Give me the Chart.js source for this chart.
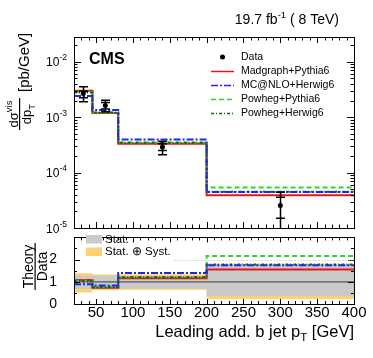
<!DOCTYPE html>
<html lang="en">
<head>
<meta charset="UTF-8">
<title>Leading add. b jet pT</title>
<script src="https://cdn.jsdelivr.net/npm/chart.js@4"></script>
<style>
  body { margin: 0; background: #fff; }
  #wrap { position: relative; width: 373px; height: 358px; }
  canvas { position: absolute; left: 0; }
  #top { top: 0; }
  #ratio { top: 220px; }
</style>
</head>
<body>
<div id="wrap">
  <canvas id="top" width="373" height="240"></canvas>
  <canvas id="ratio" width="373" height="138"></canvas>
</div>
<script>
const binEdges = [20, 45, 80, 200, 400];
const binCenters = [32.5, 62.5, 140, 300];

// measured cross section, pb/GeV
const dataXsec   = [2.67e-3, 1.62e-3, 2.9e-4, 2.56e-5];
const dataTotUp  = [3.53e-3, 2.02e-3, 3.67e-4, 4.4e-5];
const dataTotDn  = [1.89e-3, 1.25e-3, 2.1e-4, 5e-6];
const dataStatUp = [2.95e-3, 1.85e-3, 3.3e-4, 3.6e-5];
const dataStatDn = [2.25e-3, 1.4e-3, 2.5e-4, 1.5e-5];

// predictions
const madgraphPythia = [3.0e-3, 1.19e-3, 3.3e-4, 3.9e-5];
const mcatnloHerwig  = [2.4e-3, 1.35e-3, 3.95e-4, 4.45e-5];
const powhegPythia   = [2.85e-3, 1.2e-3, 3.5e-4, 5.4e-5];
const powhegHerwig   = [2.8e-3, 1.22e-3, 3.45e-4, 4.5e-5];

// theory / data
const ratioMadgraph = [1.08, 0.73, 1.16, 1.55];
const ratioMcatnlo  = [0.89, 0.83, 1.40, 1.75];
const ratioPowhegPy = [1.05, 0.75, 1.22, 2.16];
const ratioPowhegHw = [1.03, 0.76, 1.20, 1.78];

// uncertainty bands around 1
const statLo = [0.68, 0.70, 0.70, 0.36];
const statHi = [1.27, 1.28, 1.24, 1.72];
const totLo  = [0.52, 0.62, 0.64, 0.23];
const totHi  = [1.38, 1.33, 1.34, 1.78];

const xTicks = [50, 100, 150, 200, 250, 300, 350, 400];
const logTicks = [1e-5, 1e-4, 1e-3, 1e-2];
const logTickExp = ['-5', '-4', '-3', '-2'];
const ratioTicks = [0, 1, 2];
const seriesNames = ['Data', 'Madgraph+Pythia6', 'MC@NLO+Herwig6', 'Powheg+Pythia6', 'Powheg+Herwig6'];

const FONT = "'Liberation Sans', Arial, Helvetica, sans-serif";
const RED = '#e3161e', BLUE = '#2424f0', LGREEN = '#2fd52f', DGREEN = '#0b6a0b';
const DASH_BLUE = [7, 2, 2, 2], DASH_LG = [5, 3], DASH_DG = [3, 2, 1, 2];

function stepPoints(values) {
  const pts = [];
  values.forEach((v, i) => {
    pts.push({ x: binEdges[i], y: v });
    pts.push({ x: binEdges[i + 1], y: v });
  });
  return pts;
}

function histLine(values, color, dash, order) {
  return {
    data: stepPoints(values), borderColor: color, borderWidth: 2, borderDash: dash,
    pointRadius: 0, fill: false, tension: 0, order: order, borderJoinStyle: 'miter'
  };
}

function band(values, color, fill, order) {
  return {
    data: stepPoints(values), borderWidth: 0, borderColor: 'rgba(0,0,0,0)', backgroundColor: color,
    pointRadius: 0, fill: fill, tension: 0, order: order
  };
}

// ROOT style frame with inward ticks
function frameTicks(ctx, a, xs, ys, yMajor, yMinor, lx, ly) {
  ctx.save();
  ctx.strokeStyle = '#000';
  ctx.lineWidth = 1;
  ctx.beginPath();
  for (let v = 20; v <= 400; v += 10) {
    const len = v % 50 === 0 ? lx[0] : lx[1];
    const p = Math.round(xs.getPixelForValue(v)) + 0.5;
    ctx.moveTo(p, a.top); ctx.lineTo(p, a.top + len);
    ctx.moveTo(p, a.bottom); ctx.lineTo(p, a.bottom - len);
  }
  const yt = (vals, len) => vals.forEach(v => {
    const p = Math.round(ys.getPixelForValue(v)) + 0.5;
    ctx.moveTo(a.left, p); ctx.lineTo(a.left + len, p);
    ctx.moveTo(a.right, p); ctx.lineTo(a.right - len, p);
  });
  yt(yMajor, ly[0]);
  yt(yMinor, ly[1]);
  ctx.stroke();
  ctx.strokeRect(Math.round(a.left) + 0.5, Math.round(a.top) + 0.5,
    Math.round(a.right - a.left), Math.round(a.bottom - a.top));
  ctx.restore();
}

const topDecor = {
  id: 'topDecor',
  afterDatasetsDraw(chart) {
    const { ctx, chartArea: a, scales: { x, y } } = chart;
    ctx.save();
    ctx.strokeStyle = '#000';
    ctx.lineWidth = 1.5;
    ctx.beginPath();
    binCenters.forEach((c, i) => {
      const px = Math.round(x.getPixelForValue(c)) + 0.5;
      const up = y.getPixelForValue(dataTotUp[i]);
      const dn = Math.min(y.getPixelForValue(dataTotDn[i]), a.bottom);
      ctx.moveTo(px, up); ctx.lineTo(px, dn);
      [up, dn, y.getPixelForValue(dataStatUp[i]), y.getPixelForValue(dataStatDn[i])].forEach(p => {
        if (p < a.bottom) { ctx.moveTo(px - 4.5, p); ctx.lineTo(px + 4.5, p); }
      });
    });
    ctx.stroke();
    ctx.restore();
  },
  afterDraw(chart) {
    const { ctx, chartArea: a, scales: { x, y } } = chart;
    const minors = [];
    for (let d = -5; d <= -2; d++) {
      for (let k = 2; k <= 9; k++) {
        const v = k * Math.pow(10, d);
        if (v < y.max) minors.push(v);
      }
    }
    frameTicks(ctx, a, x, y, logTicks, minors, [6, 3.5], [7, 3.5]);

    ctx.save();
    ctx.fillStyle = '#000';
    ctx.textBaseline = 'alphabetic';
    // y tick labels 10^n
    logTicks.forEach((v, i) => {
      const py = y.getPixelForValue(v);
      ctx.font = `12px ${FONT}`;
      const wb = ctx.measureText('10').width;
      ctx.font = `8.5px ${FONT}`;
      const we = ctx.measureText(logTickExp[i]).width;
      const xr = 67;
      ctx.font = `12px ${FONT}`;
      ctx.fillText('10', xr - we - wb, py + 4.5);
      ctx.font = `8.5px ${FONT}`;
      ctx.fillText(logTickExp[i], xr - we, py - 1.5);
    });

    // y title
    ctx.save();
    ctx.translate(0, 130);
    ctx.rotate(-Math.PI / 2);
    ctx.font = `13px ${FONT}`;
    const wNum = ctx.measureText('d\u03c3').width;
    ctx.font = `9.5px ${FONT}`;
    const wSup = ctx.measureText('vis').width;
    let u = 16 - (wNum + wSup) / 2;
    ctx.font = `13px ${FONT}`;
    ctx.fillText('d\u03c3', u, 18);
    ctx.font = `9.5px ${FONT}`;
    ctx.fillText('vis', u + wNum, 12);
    ctx.font = `13px ${FONT}`;
    const wDen = ctx.measureText('dp').width;
    ctx.font = `9.5px ${FONT}`;
    const wSub = ctx.measureText('T').width;
    u = 16 - (wDen + wSub) / 2;
    ctx.font = `13px ${FONT}`;
    ctx.fillText('dp', u, 31);
    ctx.font = `9.5px ${FONT}`;
    ctx.fillText('T', u + wDen, 34.5);
    ctx.fillRect(0, 19, 32, 1.2);
    ctx.font = `15px ${FONT}`;
    ctx.fillText('[pb/GeV]', 38, 29);
    ctx.restore();

    // CMS and lumi
    ctx.font = `bold 16px ${FONT}`;
    ctx.fillText('CMS', 89, 63.5);
    ctx.font = `14px ${FONT}`;
    const t1 = '19.7 fb', t2 = ' ( 8 TeV)';
    const w1 = ctx.measureText(t1).width, w3 = ctx.measureText(t2).width;
    ctx.font = `9.5px ${FONT}`;
    const w2 = ctx.measureText('-1').width;
    let lx = 339 - w1 - w2 - w3;
    ctx.font = `14px ${FONT}`;
    ctx.fillText(t1, lx, 24);
    ctx.font = `9.5px ${FONT}`;
    ctx.fillText('-1', lx + w1, 18);
    ctx.font = `14px ${FONT}`;
    ctx.fillText(t2, lx + w1 + w2, 24);

    // legend
    const rows = [57, 71, 85, 99, 113];
    ctx.font = `10.5px ${FONT}`;
    ctx.textBaseline = 'middle';
    seriesNames.forEach((n, i) => ctx.fillText(n, 241, rows[i]));
    ctx.beginPath();
    ctx.arc(222.5, rows[0], 2.5, 0, Math.PI * 2);
    ctx.fill();
    const samples = [[RED, []], [BLUE, DASH_BLUE], [LGREEN, DASH_LG], [DGREEN, DASH_DG]];
    ctx.lineWidth = 1.5;
    samples.forEach((s, i) => {
      ctx.strokeStyle = s[0];
      ctx.setLineDash(s[1]);
      ctx.beginPath();
      ctx.moveTo(211, rows[i + 1] + 0.5);
      ctx.lineTo(234, rows[i + 1] + 0.5);
      ctx.stroke();
    });
    ctx.restore();
  }
};

new Chart(document.getElementById('top'), {
  type: 'line',
  data: {
    datasets: [
      { data: binCenters.map((c, i) => ({ x: c, y: dataXsec[i] })), showLine: false,
        pointRadius: 2.5, pointBackgroundColor: '#000', pointBorderWidth: 0, order: 0 },
      histLine(mcatnloHerwig, BLUE, DASH_BLUE, 1),
      histLine(powhegHerwig, DGREEN, DASH_DG, 2),
      histLine(powhegPythia, LGREEN, DASH_LG, 3),
      histLine(madgraphPythia, RED, [], 4)
    ]
  },
  options: {
    responsive: false, animation: false, devicePixelRatio: 1, events: [],
    layout: { padding: { left: 74, right: 19, top: 37, bottom: 12 } },
    scales: {
      x: { type: 'linear', min: 20, max: 400, display: false },
      y: { type: 'logarithmic', min: 1e-5, max: 2.8e-2, display: false }
    },
    plugins: { legend: { display: false }, tooltip: { enabled: false } }
  },
  plugins: [topDecor]
});

const ratioDecor = {
  id: 'ratioDecor',
  afterDraw(chart) {
    const { ctx, chartArea: a, scales: { x, y } } = chart;
    frameTicks(ctx, a, x, y, [0, 1, 2, 3], [0.5, 1.5, 2.5], [5, 3], [6, 3]);
    ctx.save();
    ctx.fillStyle = '#000';
    // legend
    const t = 220;
    ctx.fillStyle = '#cacaca';
    ctx.fillRect(86, 235 - t, 16, 8.5);
    ctx.fillStyle = '#ffd173';
    ctx.fillRect(86, 247.5 - t, 16, 8.5);
    ctx.fillStyle = '#000';
    ctx.font = `11.5px ${FONT}`;
    ctx.textBaseline = 'middle';
    ctx.fillText('Stat.', 105, 239.5 - t);
    const lab = 'Stat. \u2295 Syst.';
    ctx.fillText(lab, 105, 251.5 - t);
    const endX = 105 + ctx.measureText(lab).width + 4;
    const p2 = Math.round(y.getPixelForValue(2)) + 0.5;
    ctx.strokeStyle = '#b8b8b8';
    ctx.lineWidth = 1;
    ctx.setLineDash([1, 2]);
    ctx.beginPath();
    ctx.moveTo(endX, p2);
    ctx.lineTo(a.right, p2);
    ctx.stroke();
    ctx.setLineDash([]);

    // y title
    ctx.textBaseline = 'alphabetic';
    ctx.save();
    ctx.translate(0, 290 - t);
    ctx.rotate(-Math.PI / 2);
    ctx.font = `14px ${FONT}`;
    ctx.textAlign = 'center';
    ctx.fillText('Theory', 23.5, 32.5);
    ctx.fillText('Data', 23.5, 46.5);
    ctx.fillRect(0, 34.5, 47, 1.2);
    ctx.restore();

    // x title
    const s1 = 'Leading add. b jet p', s2 = 'T', s3 = ' [GeV]';
    ctx.font = `16.5px ${FONT}`;
    const w1 = ctx.measureText(s1).width, w3 = ctx.measureText(s3).width;
    ctx.font = `11.5px ${FONT}`;
    const w2 = ctx.measureText(s2).width;
    const x0 = a.right - w1 - w2 - w3;
    const base = 337 - t;
    ctx.font = `16.5px ${FONT}`;
    ctx.fillText(s1, x0, base);
    ctx.font = `11.5px ${FONT}`;
    ctx.fillText(s2, x0 + w1, base + 4);
    ctx.font = `16.5px ${FONT}`;
    ctx.fillText(s3, x0 + w1 + w2, base);
    ctx.restore();
  }
};

new Chart(document.getElementById('ratio'), {
  type: 'line',
  data: {
    datasets: [
      histLine(ratioMcatnlo, BLUE, DASH_BLUE, 1),
      histLine(ratioPowhegHw, DGREEN, DASH_DG, 2),
      histLine(ratioPowhegPy, LGREEN, DASH_LG, 3),
      histLine(ratioMadgraph, RED, [], 4),
      { data: [{ x: binEdges[0], y: 1 }, { x: binEdges[binEdges.length - 1], y: 1 }],
        borderColor: '#555', borderWidth: 1.2, pointRadius: 0, fill: false, order: 5 },
      band(statHi, '#cacaca', '+1', 6),
      band(statLo, '#cacaca', false, 6),
      band(totHi, '#ffd173', '+1', 8),
      band(totLo, '#ffd173', false, 8)
    ]
  },
  options: {
    responsive: false, animation: false, devicePixelRatio: 1, events: [],
    layout: { padding: { left: 0, right: 19, top: 8, bottom: 0 } },
    scales: {
      x: {
        type: 'linear', min: 20, max: 400,
        grid: { display: false }, border: { display: false },
        afterBuildTicks: s => { s.ticks = xTicks.map(v => ({ value: v })); },
        afterFit: s => { s.height = 54; },
        ticks: { font: { family: FONT, size: 15 }, color: '#000', padding: -8, autoSkip: false, maxRotation: 0 }
      },
      y: {
        type: 'linear', min: 0, max: 3,
        grid: { display: false }, border: { display: false },
        afterBuildTicks: s => { s.ticks = ratioTicks.map(v => ({ value: v })); },
        afterFit: s => { s.width = 74; },
        ticks: { font: { family: FONT, size: 14 }, color: '#000', padding: 9 }
      }
    },
    plugins: { legend: { display: false }, tooltip: { enabled: false } }
  },
  plugins: [ratioDecor]
});
</script>
</body>
</html>
